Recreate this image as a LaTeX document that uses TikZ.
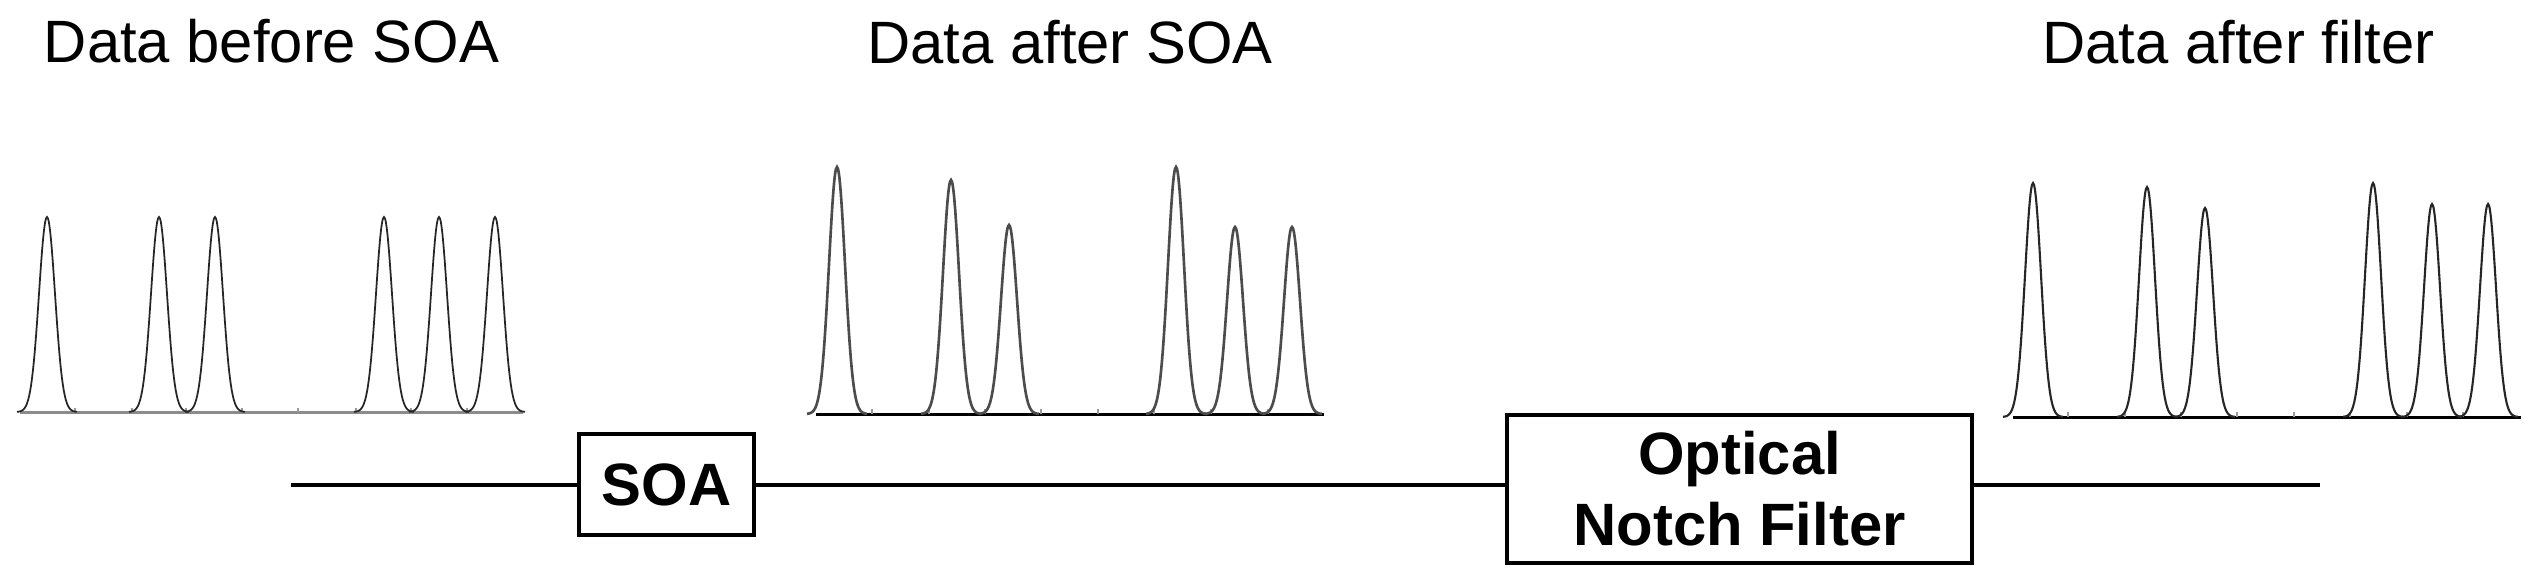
\documentclass[tikz,border=0pt]{standalone}
\usepackage{fontspec}
\setmainfont{Liberation Sans}
\begin{document}
\begin{tikzpicture}[x=0.01cm,y=-0.01cm,
  title/.style={anchor=base,inner sep=0pt,font=\fontsize{17}{20}\selectfont},
  box/.style={draw,line width=1.2pt,inner sep=0pt,align=center,
    font=\fontsize{17}{20.2}\selectfont\bfseries},
  wire/.style={line width=1.3pt},
  pulse/.style={line width=0.5pt,black!85},
  axis/.style={line width=0.85pt},
  tick/.style={line width=0.4pt,black!40}]
\newcommand\pulseat[4][]{\draw[pulse,#1] plot[domain=-30:30,samples=61,smooth]
  ({#2+\x},{#3-(#3-#4)*exp(-(\x*\x)/128)});}
\useasboundingbox (0,0) rectangle (2537,584);
% titles
\node[title] (t1) at (271.5,62) {Data before SOA};
\node[title] (t2) at (1070,63) {Data after SOA};
\node[title] (t3) at (2238.5,63) {Data after filter};
% plot 1
\draw[axis,black!45] (20,412) -- (523,412);
\foreach \t in {75,132,186,242,298,356,411,467} {\draw[tick] (\t,412) -- (\t,408);}
\foreach \c in {47,159,215,384,439,495} {\pulseat{\c}{412}{217}}
% plot 2
\draw[axis] (816,414) -- (1324,414);
\foreach \t in {872,929,985,1041,1098,1154,1211,1268} {\draw[tick] (\t,414) -- (\t,409);}
\foreach \c/\p in {837/167,951/180,1009/225,1176/167,1235/227,1292/227} {\pulseat[line width=0.75pt,black!70]{\c}{414}{\p}}
% plot 3
\draw[axis] (2013,417) -- (2521,417);
\foreach \t in {2068,2125,2181,2237,2294,2350,2407,2463} {\draw[tick] (\t,417) -- (\t,412);}
\foreach \c/\p in {2033/183,2147/187,2205/208,2373/183,2432/204,2488/204} {\pulseat[line width=0.6pt]{\c}{417}{\p}}
% components
\node[box,minimum width=1.75cm,minimum height=1.01cm] (soa) at (666.5,484.5) {SOA};
\node[box,minimum width=4.65cm,minimum height=1.48cm] (filter) at (1739.5,489) {Optical\\Notch Filter};
\coordinate (in) at (291,485);
\coordinate (out) at (2320,485);
\draw[wire] (in) -- (in -| soa.west);
\draw[wire] (in -| soa.east) -- (in -| filter.west);
\draw[wire] (in -| filter.east) -- (out);
\end{tikzpicture}
\end{document}
